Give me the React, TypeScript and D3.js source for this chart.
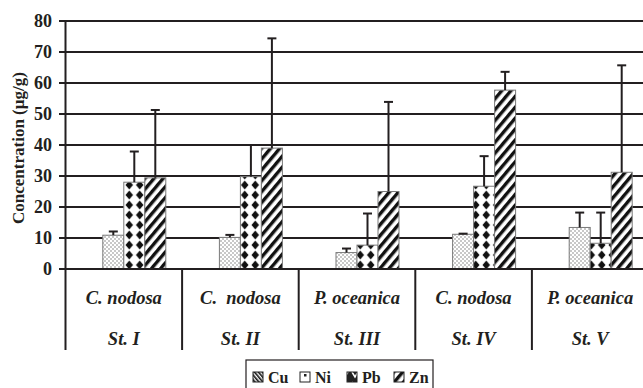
import React from "react";
import * as d3 from "d3";

const species = ["C. nodosa", "C.  nodosa", "P. oceanica", "C. nodosa", "P. oceanica"];
const stations = ["St. I", "St. II", "St. III", "St. IV", "St. V"];
const metals = ["Cu", "Ni", "Pb", "Zn"];
const cuValues = [0, 0, 0, 0, 0];
const niValues = [10.9, 10.2, 5.3, 11.2, 13.4];
const pbValues = [28, 29.8, 7.7, 26.7, 8.3];
const znValues = [29.4, 39, 25, 57.7, 31.2];
const cuErrTop = [0, 0, 0, 0, 0];
const niErrTop = [12.1, 11, 6.6, 11.4, 18.2];
const pbErrTop = [37.9, 40, 17.9, 36.4, 18.2];
const znErrTop = [51.3, 74.4, 53.9, 63.6, 65.7];
const yTicks = [0, 10, 20, 30, 40, 50, 60, 70, 80];

const values = [cuValues, niValues, pbValues, znValues];
const errTops = [cuErrTop, niErrTop, pbErrTop, znErrTop];
const fills = ["url(#cuPat)", "url(#dots)", "url(#diam)", "url(#hatch)"];

const INK = "#231f20";
const FONT = "Liberation Serif, DejaVu Serif, Times New Roman, serif";

export default function App() {
  const W = 643, H = 388;
  const left = 65.5;
  const groupW = 116.6;
  const x0 = d3.scaleBand<number>().domain(d3.range(5)).range([left, left + groupW * 5]).padding(0);
  const x1 = d3.scaleBand<string>().domain(metals).range([16.3, 16.3 + 84]).padding(0);
  const y = d3.scaleLinear().domain([0, 80]).range([269, 21]);
  const sepBottom = 350;
  const txt = { fontFamily: FONT, fontWeight: 700 as const };

  return (
    <svg width={W} height={H} style={{ position: "absolute", left: 0, top: 0, background: "#fff" }}>
      <defs>
        <pattern id="dots" width="4" height="4" patternUnits="userSpaceOnUse">
          <rect width="4" height="4" fill="#fff" />
          <circle cx="1" cy="1" r="0.75" fill="#777" />
          <circle cx="3" cy="3" r="0.75" fill="#777" />
        </pattern>
        <pattern id="diam" width="10.5" height="10" patternUnits="userSpaceOnUse" x="124" y="0">
          <rect width="10.5" height="10" fill="#fff" />
          <path d="M5.25,0.4 L9,5 L5.25,9.6 L1.5,5 Z" fill="#111" />
          <path d="M0,-4.6 L3.75,0 L0,4.6 L-3.75,0 Z" fill="#fff" />
        </pattern>
        <pattern id="hatch" width="7" height="7" patternUnits="userSpaceOnUse" patternTransform="rotate(40)">
          <rect width="7" height="7" fill="#fff" />
          <rect width="3.4" height="7" fill="#111" />
        </pattern>
        <pattern id="cuPat" width="3" height="3" patternUnits="userSpaceOnUse" patternTransform="rotate(-40)">
          <rect width="3" height="3" fill="#fff" />
          <rect width="1.6" height="3" fill="#111" />
        </pattern>
        <pattern id="pbIcon" width="10" height="10" patternUnits="userSpaceOnUse">
          <rect width="10" height="10" fill="#222" />
          <path d="M2,2 L5,7 L8,2" fill="none" stroke="#fff" strokeWidth="1.5" />
        </pattern>
        <pattern id="niIcon" width="10" height="10" patternUnits="userSpaceOnUse">
          <rect width="10" height="10" fill="#fff" />
          <rect x="4" y="4" width="2.5" height="2.5" fill="#222" />
        </pattern>
      </defs>

      {yTicks.map((t) => (
        <line key={"g" + t} x1={59} x2={W} y1={y(t)} y2={y(t)} stroke={INK} strokeWidth={2} />
      ))}

      {d3.range(5).map((gi) =>
        metals.map((m, si) => {
          const v = values[si][gi];
          if (!v) return null;
          const bx = (x0(gi) as number) + (x1(m) as number);
          const bw = x1.bandwidth();
          return (
            <rect key={`b${gi}${si}`} x={bx} y={y(v)} width={bw} height={y(0) - y(v)}
              fill={fills[si]} stroke="#7a7a7a" strokeWidth={1} />
          );
        })
      )}

      {d3.range(5).map((gi) =>
        metals.map((m, si) => {
          const v = values[si][gi];
          const e = errTops[si][gi];
          if (!v || e <= v) return null;
          const cx = (x0(gi) as number) + (x1(m) as number) + x1.bandwidth() / 2;
          return (
            <g key={`e${gi}${si}`}>
              <line x1={cx} x2={cx} y1={y(v)} y2={y(e)} stroke={INK} strokeWidth={2} />
              <line x1={cx - 4.5} x2={cx + 4.5} y1={y(e)} y2={y(e)} stroke={INK} strokeWidth={2} />
            </g>
          );
        })
      )}

      <line x1={left} x2={left} y1={y(80)} y2={sepBottom} stroke={INK} strokeWidth={2} />
      <line x1={59} x2={W} y1={y(0)} y2={y(0)} stroke={INK} strokeWidth={2.2} />
      {d3.range(1, 5).map((gi) => (
        <line key={"s" + gi} x1={x0(gi) as number} x2={x0(gi) as number} y1={y(0)} y2={sepBottom} stroke={INK} strokeWidth={2} />
      ))}

      {yTicks.map((t) => (
        <text key={"t" + t} x={52} y={y(t)} dy="0.35em" textAnchor="end" style={txt}
          fontSize={18} fill={INK}>{t}</text>
      ))}

      <text transform={`translate(18,${148}) rotate(-90)`} textAnchor="middle" dy="0.35em"
        style={txt} fontSize={17} fill={INK}>Concentration (µg/g)</text>

      {d3.range(5).map((gi) => {
        const cx = (x0(gi) as number) + groupW / 2;
        return (
          <g key={"c" + gi}>
            <text x={cx} y={304} textAnchor="middle" style={{ ...txt, fontStyle: "italic", whiteSpace: "pre" }}
              fontSize={18.5} fill={INK}>{species[gi]}</text>
            <text x={cx} y={345} textAnchor="middle" style={{ ...txt, fontStyle: "italic" }}
              fontSize={18.5} fill={INK}>{stations[gi]}</text>
          </g>
        );
      })}

      <rect x={246} y={360} width={187} height={40} fill="#fff" stroke={INK} strokeWidth={1.2} />
      {metals.map((m, i) => {
        const lx = 253 + i * 47;
        const iconFill = ["url(#cuPat)", "url(#niIcon)", "url(#pbIcon)", "url(#hatch)"][i];
        return (
          <g key={"l" + m}>
            <rect x={lx} y={372} width={10} height={10} fill={iconFill} stroke="#222" strokeWidth={1} />
            <text x={lx + 15} y={383} style={txt} fontSize={16} fill={INK}>{m}</text>
          </g>
        );
      })}
    </svg>
  );
}
